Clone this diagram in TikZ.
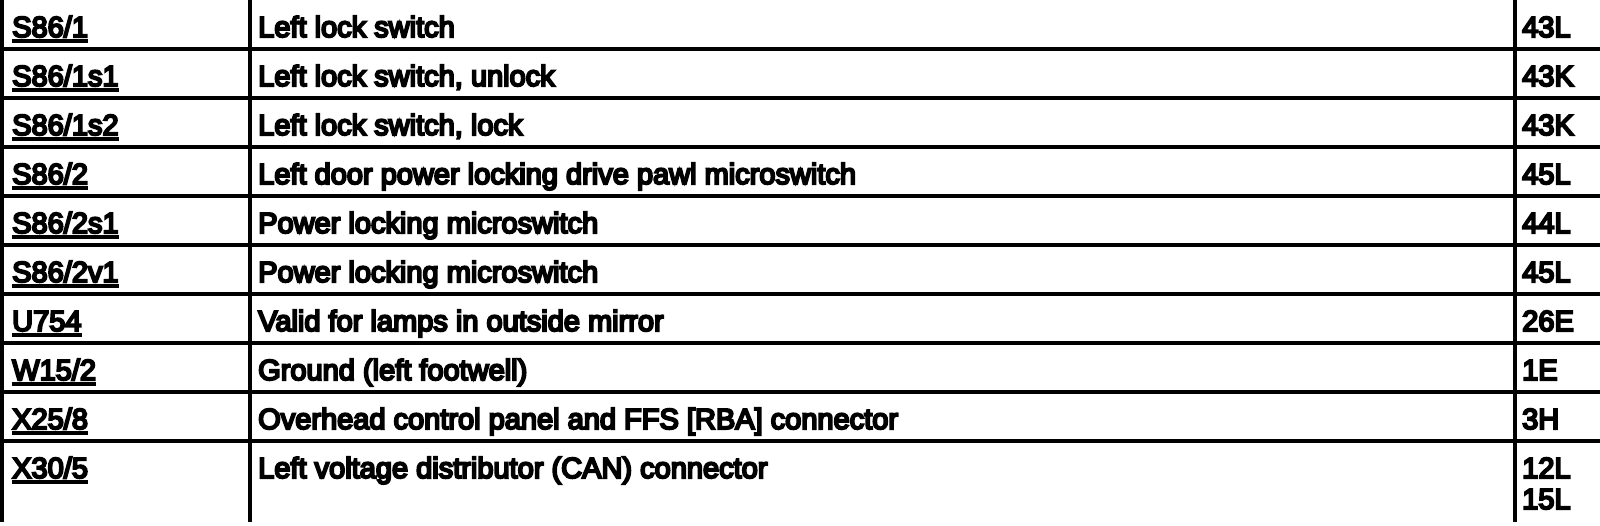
\documentclass[tikz,border=0pt]{standalone}
\usepackage{fontspec}
\setmainfont{Liberation Sans}[FakeBold=7]
\usepackage{tikz}

\begin{document}
\begin{tikzpicture}[x=1pt,y=1pt,
    rule/.style={line width=4pt},
    cell/.style={anchor=base west,inner sep=0pt,font=\fontsize{29}{31}\selectfont}]
    \useasboundingbox (0,0) rectangle (1600,-526);

    % draw grid lines
    \foreach \x in {2,250,1515}
        \draw[rule] (\x,0) -- (\x,-522);
    \foreach \k in {1,...,9}
        \draw[rule] (0,-49*\k) -- (1600,-49*\k);

    % draw rows
    \foreach \code/\desc/\page [count=\i] in {
        {S86/1}/{Left lock switch}/43L,
        {S86/1s1}/{Left lock switch, unlock}/43K,
        {S86/1s2}/{Left lock switch, lock}/43K,
        {S86/2}/{Left door power locking drive pawl microswitch}/45L,
        {S86/2s1}/{Power locking microswitch}/44L,
        {S86/2v1}/{Power locking microswitch}/45L,
        {U754}/{Valid for lamps in outside mirror}/26E,
        {W15/2}/{Ground (left footwell)}/1E,
        {X25/8}/{Overhead control panel and FFS [RBA] connector}/3H,
        {X30/5}/{Left voltage distributor (CAN) connector}/12L}{
        \node[cell] (code\i) at (12,-49*\i+12) {\code};
        \node[cell] (desc\i) at (258,-49*\i+12) {\desc};
        \node[cell] (page\i) at (1522,-49*\i+12) {\page};
        \draw[rule] ([yshift=-4pt]code\i.base west) -- ([yshift=-4pt]code\i.base east);
    }
    \node[cell] (page11) at ([yshift=-31pt]page10.base west) {15L};
\end{tikzpicture}
\end{document}
